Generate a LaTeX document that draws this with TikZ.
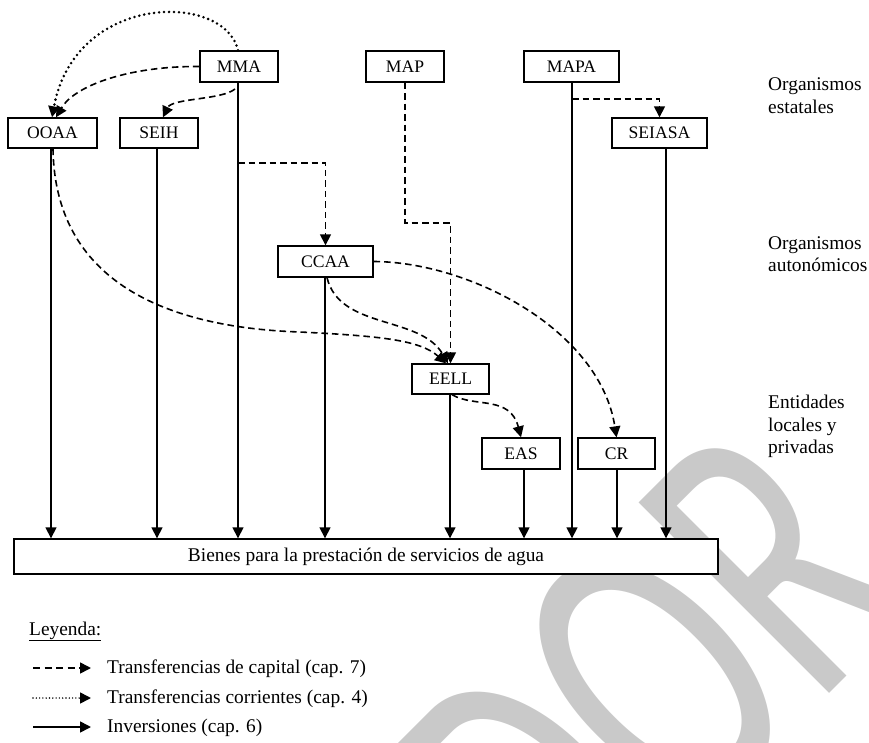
\documentclass[tikz,border=0pt]{standalone}
\usepackage{fontspec}
\setmainfont{Liberation Serif}
\newfontfamily\wmfont{Carlito}
\usetikzlibrary{arrows.meta}
\definecolor{wmgray}{RGB}{201,201,201}
\begin{document}
\begin{tikzpicture}[x=1pt,y=-1pt,
  box/.style={draw, fill=white, line width=1.4pt, inner sep=0pt, minimum height=31pt, font=\fontsize{17.6}{20}\selectfont},
  lbl/.style={font=\fontsize{19.4}{22.5}\selectfont, inner sep=0pt, anchor=base west},
  tip/.style={-{Triangle[length=11pt,width=11pt]}},
  invline/.style={tip, line width=1.6pt},
  capline/.style={tip, line width=1.6pt, dash pattern=on 6.5pt off 4pt},
  curline/.style={tip, line width=2.8pt, line cap=round, dash pattern=on 0pt off 5pt},
]
\useasboundingbox (0,0) rectangle (869,743);
% watermark
\begin{scope}
\clip (0,0) rectangle (869,743);
\node[rotate=45, anchor=base east, inner sep=0pt, text=wmgray, font=\wmfont\fontsize{420}{420}\selectfont] (wm) at (922,601) {\scalebox{0.66}[1]{BORRADOR}};
\end{scope}

% nodes
\node[box, minimum width=78pt] (MMA) at (239,66.5) {MMA};
\node[box, minimum width=78pt] (MAP) at (405,66.5) {MAP};
\node[box, minimum width=95pt] (MAPA) at (571.5,66.5) {MAPA};
\node[box, minimum width=89pt, minimum height=30pt] (OOAA) at (52.5,133) {OOAA};
\node[box, minimum width=78pt, minimum height=30pt] (SEIH) at (159,133) {SEIH};
\node[box, minimum width=95pt, minimum height=30pt] (SEIASA) at (659.5,133) {SEIASA};
\node[box, minimum width=95pt] (CCAA) at (325.5,261.5) {CCAA};
\node[box, minimum width=77pt, minimum height=30pt] (EELL) at (450.5,379) {EELL};
\node[box, minimum width=78pt] (EAS) at (521,453.5) {EAS};
\node[box, minimum width=77pt] (CR) at (616.5,453.5) {CR};
\node[box, minimum width=704pt, minimum height=35pt, font=\fontsize{19.4}{22}\selectfont] (B) at (366,556.5) {Bienes para la prestación de servicios de agua};

% side labels
\node[lbl] (s1a) at (768,91) {Organismos};
\node[lbl] (s1b) at (768,114) {estatales};
\node[lbl] (s2a) at (768,249) {Organismos};
\node[lbl] (s2b) at (768,271) {autonómicos};
\node[lbl] (s3a) at (768,408) {Entidades};
\node[lbl] (s3b) at (768,431) {locales y};
\node[lbl] (s3c) at (768,453) {privadas};

% joints on stems
\coordinate (mmaS) at (235,89);
\coordinate (mmaJ) at (238,163);
\coordinate (mapJ) at (430,223);
\coordinate (mapaJ) at (572,99);

% investments (solid)
\draw[invline] (OOAA.south -| 51,0) -- (B.north -| 51,0);
\draw[invline] (SEIH.south -| 157,0) -- (B.north -| 157,0);
\draw[invline] (MMA.south -| 238,0) -- (B.north -| 238,0);
\draw[invline] (CCAA.south -| 325,0) -- (B.north -| 325,0);
\draw[invline] (EELL.south -| 450,0) -- (B.north -| 450,0);
\draw[invline] (EAS.south -| 524,0) -- (B.north -| 524,0);
\draw[invline] (MAPA.south -| 572,0) -- (B.north -| 572,0);
\draw[invline] (CR.south -| 617,0) -- (B.north -| 617,0);
\draw[invline] (SEIASA.south -| 666,5) -- (B.north -| 666,0);

% current transfers (dotted)
\draw[curline] (MMA.north -| 238,0) .. controls (225,-8) and (75,-8) .. (OOAA.north -| 52,0);

% capital transfers (dashed)
\draw[capline] (MMA.west) .. controls (130,66) and (75,85) .. (OOAA.north -| 56,0);
\draw[capline] (mmaS) .. controls (222,100) and (172,98) .. (SEIH.north -| 163,0);
\draw[capline] (mmaJ) -| (CCAA.north);
\draw[capline] (MAP.south) |- (mapJ) -| (EELL.north);
\draw[capline] (mapaJ) -| (SEIASA.north);
\draw[capline] (OOAA.south -| 53,0) .. controls (55,290) and (180,328) .. (300,332) .. controls (380,336) and (420,340) .. (EELL.north -| 446,0);
\draw[capline] (CCAA.south -| 327,0) .. controls (340,330) and (420,315) .. (EELL.north -| 448,0);
\draw[capline] (CCAA.east) .. controls (470,262) and (600,330) .. (CR.north);
\draw[capline] (EELL.south -| 452,0) .. controls (475,408) and (510,395) .. (EAS.north);

% legend
\node[lbl] (ley) at (29,635) {\underline{Leyenda:}};
\coordinate (l1a) at (33,668); \coordinate (l1b) at (91,668);
\coordinate (l2a) at (33,698); \coordinate (l2b) at (91,698);
\coordinate (l3a) at (33,727); \coordinate (l3b) at (91,727);
\draw[capline, dash pattern=on 7pt off 4.5pt] (l1a) -- (l1b);
\draw[tip, line width=1.6pt, line cap=round, dash pattern=on 0pt off 3.3pt] (l2a) -- (l2b);
\draw[invline] (l3a) -- (l3b);
\node[lbl] (t1) at (107,673) {Transferencias de capital (cap. 7)};
\node[lbl] (t2) at (107,703) {Transferencias corrientes (cap. 4)};
\node[lbl] (t3) at (107,732) {Inversiones (cap. 6)};
\end{tikzpicture}
\end{document}
